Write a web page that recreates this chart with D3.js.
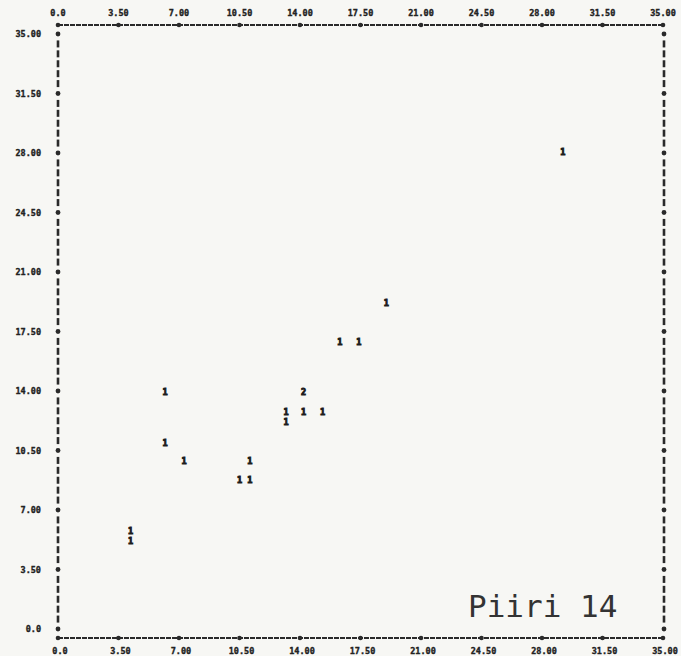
<!DOCTYPE html>
<html>
<head>
<meta charset="utf-8">
<script src="https://cdn.jsdelivr.net/npm/d3@7"></script>
<style>
  body { margin: 0; background: #f7f7f4; }
  svg { display: block; }
  .lab { font-family: "DejaVu Sans Mono", monospace; font-weight: bold; font-size: 8.5px; fill: #222; stroke: #222; stroke-width: 0.35px; }
</style>
</head>
<body>
<div id="chart"></div>
<script>
var width = 681, height = 656;

// printer tick labels (as printed)
var xTicks = [0, 3.5, 7, 10.5, 14, 17.5, 21, 24.5, 28, 31.5, 35];
var xTickLabels = ["0.0", "3.50", "7.00", "10.50", "14.00", "17.50", "21.00", "24.50", "28.00", "31.50", "35.00"];
var yTicks = [0, 3.5, 7, 10.5, 14, 17.5, 21, 24.5, 28, 31.5, 35];
var yTickLabels = ["0.0", "3.50", "7.00", "10.50", "14.00", "17.50", "21.00", "24.50", "28.00", "31.50", "35.00"];

// points; count is the printed digit
var px = [6.2, 6.2, 7.3, 11.1, 10.5, 11.1, 4.2, 4.2, 14.2, 13.2, 13.2, 14.2, 15.3, 16.3, 17.4, 19.0, 29.2];
var py = [14.0, 11.0, 9.9, 9.9, 8.8, 8.8, 5.8, 5.2, 14.0, 12.8, 12.2, 12.8, 12.8, 16.9, 16.9, 19.2, 28.1];
var pcount = [1, 1, 1, 1, 1, 1, 1, 1, 2, 1, 1, 1, 1, 1, 1, 1, 1];

var title = "Piiri 14";

var svg = d3.select("#chart").append("svg")
    .attr("width", width)
    .attr("height", height);

svg.append("rect").attr("width", width).attr("height", height).attr("fill", "#f7f7f4");

var x = d3.scaleLinear().domain([0, 35]).range([58, 663]);
var y = d3.scaleLinear().domain([0, 35]).range([629, 34]);

var topY = 25, botY = 638;
var ink = "#2a2a2a";

// top and bottom axis rows (dashes)
[topY, botY].forEach(function(yy){
    svg.append("line")
        .attr("x1", x(0)).attr("x2", x(35))
        .attr("y1", yy).attr("y2", yy)
        .attr("stroke", ink).attr("stroke-width", 2.2)
        .attr("stroke-dasharray", "5,1");
    svg.selectAll(null)
        .data(xTicks)
        .enter()
        .append("circle")
        .attr("cx", function(d){ return x(d); })
        .attr("cy", yy)
        .attr("r", 2.3)
        .attr("fill", ink);
});

// left and right axis columns: "I" chars with "+" at ticks
var rows = d3.range(0, 61);
[x(0), x(35) + 1].forEach(function(xx){
    svg.selectAll(null)
        .data(rows)
        .enter()
        .append("rect")
        .attr("x", xx - 1.3)
        .attr("y", function(i){ return y(i * 35 / 60) - 3.5; })
        .attr("width", 2.6)
        .attr("height", function(i){ return i % 6 == 0 ? 0 : 7; })
        .attr("fill", ink);
    svg.selectAll(null)
        .data(yTicks)
        .enter()
        .append("circle")
        .attr("cx", xx)
        .attr("cy", function(d){ return y(d); })
        .attr("r", 2.4)
        .attr("fill", ink);
});

// top labels
svg.selectAll(null)
    .data(xTicks)
    .enter()
    .append("text")
    .attr("class", "lab")
    .attr("x", function(d){ return x(d); })
    .attr("y", 16)
    .attr("text-anchor", "middle")
    .text(function(d, i){ return xTickLabels[i]; });

// bottom labels
svg.selectAll(null)
    .data(xTicks)
    .enter()
    .append("text")
    .attr("class", "lab")
    .attr("x", function(d){ return x(d) + 2; })
    .attr("y", 654)
    .attr("text-anchor", "middle")
    .text(function(d, i){ return xTickLabels[i]; });

// left labels
svg.selectAll(null)
    .data(yTicks)
    .enter()
    .append("text")
    .attr("class", "lab")
    .attr("x", 41)
    .attr("y", function(d){ return y(d) + 3; })
    .attr("text-anchor", "end")
    .text(function(d, i){ return yTickLabels[i]; });

// data characters
svg.selectAll(null)
    .data(px)
    .enter()
    .append("text")
    .attr("x", function(d){ return x(d); })
    .attr("y", function(d, i){ return y(py[i]) + 3.5; })
    .attr("text-anchor", "middle")
    .attr("font-family", "DejaVu Sans Mono, monospace")
    .attr("font-weight", "bold")
    .attr("font-size", 8.5)
    .attr("fill", "#1e1e1e")
    .attr("stroke", "#1e1e1e")
    .attr("stroke-width", 1)
    .text(function(d, i){ return pcount[i]; });

// title typed on the sheet
svg.append("text")
    .attr("x", 468)
    .attr("y", 617)
    .attr("font-family", "DejaVu Sans Mono, monospace")
    .attr("font-size", 31)
    .attr("fill", "#333")
    .text(title);
</script>
</body>
</html>
